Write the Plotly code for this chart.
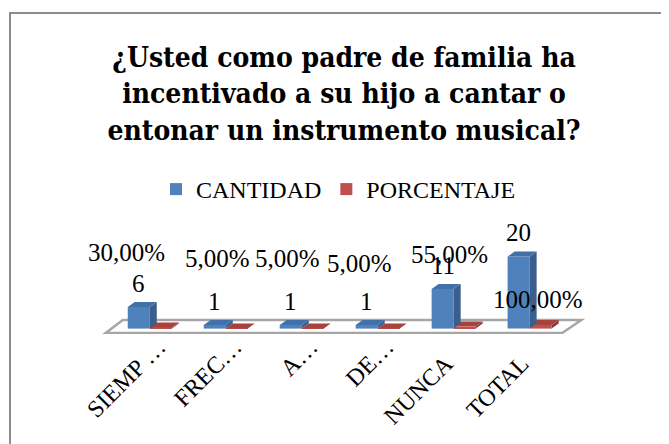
import plotly.graph_objects as go

# ---------------- data ----------------
categories = ["SIEMP …", "FREC…", "A…", "DE…",
              "NUNCA\u00a0\u00a0\u00a0\u00a0", "TOTAL\u00a0\u00a0\u00a0\u00a0"]
cantidad = [6, 1, 1, 1, 11, 20]
porcentaje = [0.30, 0.05, 0.05, 0.05, 0.55, 1.00]
series_names = ["CANTIDAD", "PORCENTAJE"]
title_lines = ["¿Usted como padre de familia ha",
               "incentivado a su hijo a cantar o",
               "entonar un instrumento musical?"]

# ---------------- styles / layout ----------------
OFF = 8                       # page (body) margin of the html page
W, H = 669 - OFF, 444 - OFF
ML, MR, MT, MB = 89 - OFF, 71, 215 - OFF, 110
XR = [-0.8, 5.9]
YR = [-1.5, 31.56]
BARGAP = 0.42
BLUE, BLUE_SIDE, BLUE_TOP = "#4F81BD", "#3A5F8D", "#4270A8"
RED, RED_SIDE, RED_TOP = "#C0504D", "#8E3A38", "#A8423F"
SERIF = "Liberation Serif, Times New Roman, serif"

px_x = (W - ML - MR) / (XR[1] - XR[0])
px_y = (H - MT - MB) / (YR[1] - YR[0])
DX = 7 / px_x        # depth offset of 3D faces (in axis units)
DY = 5 / px_y
half = (1 - BARGAP) / 2

pct_xshift = [-23, -8, -14, -18, -4, 8]
pct_yshift = [76, 70, 70, 65, 74, 29]

idx = list(range(len(categories)))

fig = go.Figure()
fig.add_trace(go.Bar(x=idx, y=cantidad, name=series_names[0],
                     marker=dict(color=BLUE, line=dict(width=0))))
fig.add_trace(go.Bar(x=idx, y=porcentaje, name=series_names[1],
                     marker=dict(color=RED, line=dict(width=0))))

shapes = []
# floor
fl, fr = XR[0] + 0.22, XR[1] - 0.47
bl, br = XR[0] + 0.445, XR[1] - 0.22
fy, by = -1.2, 2.4
shapes.append(dict(type="path", xref="x", yref="y", layer="below",
                   path=f"M{fl},{fy} L{fr},{fy} L{br},{by} L{bl},{by} Z",
                   line=dict(color="#A6A6A6", width=2.5), fillcolor="white"))


def faces(x0, x1, v, side, top):
    out = []
    out.append(dict(type="path", xref="x", yref="y", layer="above",
                    path=f"M{x1},0 L{x1+DX},{DY} L{x1+DX},{v+DY} L{x1},{v} Z",
                    line=dict(width=0), fillcolor=side))
    out.append(dict(type="path", xref="x", yref="y", layer="above",
                    path=f"M{x0},{v} L{x1},{v} L{x1+DX},{v+DY} L{x0+DX},{v+DY} Z",
                    line=dict(width=0), fillcolor=top))
    return out


for i, v in zip(idx, porcentaje):
    shapes += faces(i, i + half, v, RED_SIDE, RED_TOP)
for i, v in zip(idx, cantidad):
    shapes += faces(i - half, i, v, BLUE_SIDE, BLUE_TOP)

# chart border (paper coords), positions given in screen pixels
pw, ph = W - ML - MR, H - MT - MB
def pxx(p):
    return (p - OFF - ML) / pw
def pxy(p):
    return (H - MB - (p - OFF)) / ph
shapes.append(dict(type="rect", xref="paper", yref="paper",
                   x0=pxx(10), x1=pxx(700), y0=pxy(13), y1=pxy(480),
                   line=dict(color="#8C8C8C", width=2), fillcolor="rgba(0,0,0,0)"))

annotations = []
for i, v in zip(idx, cantidad):
    annotations.append(dict(x=i - half / 2, y=v, xref="x", yref="y",
                            text=str(v), showarrow=False, yshift=24,
                            font=dict(family=SERIF, size=25, color="black")))
for i, p in zip(idx, porcentaje):
    annotations.append(dict(x=i, y=0, xref="x", yref="y",
                            text=f"{p*100:.2f}%".replace(".", ","),
                            showarrow=False, xshift=pct_xshift[i], yshift=pct_yshift[i],
                            font=dict(family=SERIF, size=25, color="black")))

fig.update_layout(
    width=W, height=H,
    margin=dict(l=ML, r=MR, t=MT, b=MB, pad=0, autoexpand=False),
    paper_bgcolor="white", plot_bgcolor="rgba(0,0,0,0)",
    barmode="group", bargap=BARGAP, bargroupgap=0,
    title=dict(text="<br>".join(title_lines), x=(344 - OFF) / W, xref="container",
               xanchor="center", y=1 - (67 - OFF) / H, yref="container", yanchor="middle",
               font=dict(family="DejaVu Serif Condensed, DejaVu Serif, serif", size=28,
                         color="black", weight="bold")),
    legend=dict(orientation="h", xref="container", yref="container",
                x=(156 - OFF) / W, xanchor="left", y=1 - (167 - OFF) / H, yanchor="top",
                font=dict(family=SERIF, size=24, color="black"),
                bgcolor="rgba(0,0,0,0)"),
    xaxis=dict(range=XR, tickmode="array", tickvals=idx, ticktext=categories,
               tickangle=-45, showgrid=False, zeroline=False, showline=False,
               ticks="", automargin=False, ticklabelstandoff=-7, ticklabelshift=9,
               tickfont=dict(family=SERIF, size=24, color="black")),
    yaxis=dict(range=YR, visible=False, showgrid=False, zeroline=False),
    shapes=shapes, annotations=annotations, showlegend=True,
)

fig.write_html("out.html")
